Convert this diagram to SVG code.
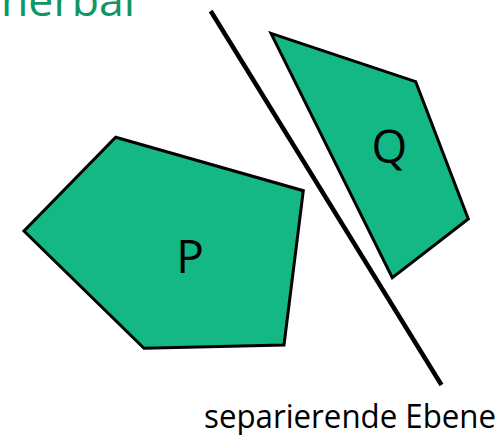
<svg xmlns="http://www.w3.org/2000/svg" width="501" height="435" viewBox="0 0 501 435">
<style>
.poly{fill:#14b885;stroke:#000;stroke-width:3;stroke-linejoin:miter}
.lbl{font-family:"Open Sans","DejaVu Sans",sans-serif;fill:#000}
</style>
<rect width="501" height="435" fill="#fff"/>
<text x="1" y="16" class="lbl" style="fill:#0f9662" font-size="44" textLength="134" lengthAdjust="spacingAndGlyphs">nerbal</text>
<g id="connectors">
<line x1="210.7" y1="11" x2="441.5" y2="385" stroke="#000" stroke-width="4.5"/>
</g>
<g id="P">
<polygon class="poly" points="115.7,137.3 303.3,190.7 284,345 144,348.3 24,231"/>
<text x="190" y="272.5" class="lbl" font-size="46" text-anchor="middle">P</text>
</g>
<g id="Q">
<polygon class="poly" points="271,33.3 415.7,81.7 468.3,219 392.3,277.7"/>
<text x="389.5" y="163" class="lbl" font-size="46" text-anchor="middle">Q</text>
</g>
<g id="label">
<text x="204" y="428" class="lbl" font-size="33" textLength="292" lengthAdjust="spacingAndGlyphs">separierende Ebene</text>
</g>
</svg>
